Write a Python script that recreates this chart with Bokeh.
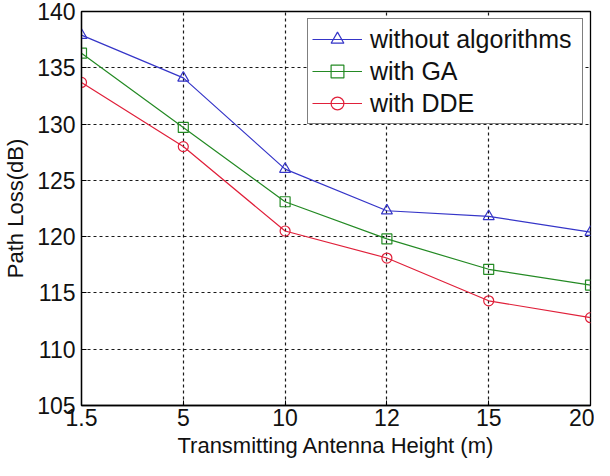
from bokeh.plotting import figure
from bokeh.models import Range1d, FixedTicker, Legend, LegendItem
from bokeh.embed import file_html
from bokeh.resources import INLINE

heights = ["1.5", "5", "10", "12", "15", "20"]
without_alg = [137.9, 134.1, 126.0, 122.3, 121.8, 120.4]
with_ga = [136.3, 129.7, 123.1, 119.8, 117.1, 115.7]
with_dde = [133.7, 128.0, 120.5, 118.1, 114.3, 112.8]
y_ticks = [105, 110, 115, 120, 125, 130, 135, 140]

xs = list(range(len(heights)))
FONT = "Liberation Sans"

p = figure(width=594, height=460, output_backend="svg", toolbar_location=None,
           x_range=Range1d(0, len(heights) - 1), y_range=Range1d(105, 140),
           min_border_left=73, min_border_right=4, min_border_top=11, min_border_bottom=51)

p.outline_line_color = "black"
p.outline_line_width = 1.3
p.background_fill_color = "white"

for ax in (p.xaxis[0], p.yaxis[0]):
    ax.major_label_text_font = FONT
    ax.major_label_text_font_size = "23px"
    ax.major_label_text_color = "#111111"
    ax.axis_label_text_font = FONT
    ax.axis_label_text_font_size = "22px"
    ax.axis_label_text_font_style = "normal"
    ax.axis_label_text_color = "#111111"
    ax.major_tick_in = 5
    ax.major_tick_out = 0
    ax.minor_tick_in = 0
    ax.minor_tick_out = 0
    ax.axis_line_color = "black"
    ax.axis_line_width = 1.3
    ax.major_tick_line_color = "black"

p.xaxis.ticker = FixedTicker(ticks=xs)
p.xaxis.major_label_overrides = {i: h for i, h in enumerate(heights)}
p.xaxis.axis_label = "Transmitting Antenna Height (m)"
p.xaxis.major_label_standoff = 3
p.xaxis.axis_label_standoff = 4

p.yaxis.ticker = FixedTicker(ticks=y_ticks)
p.yaxis.axis_label = "Path Loss(dB)"
p.yaxis.major_label_standoff = 6
p.yaxis.axis_label_standoff = 6

for g in (p.xgrid[0], p.ygrid[0]):
    g.grid_line_color = "black"
    g.grid_line_dash = "3 3"
    g.grid_line_width = 1.2
    g.grid_line_alpha = 0.9

series = [
    ("without algorithms", without_alg, "#3535c8", "triangle", 11),
    ("with GA", with_ga, "#248a24", "square", 10),
    ("with DDE", with_dde, "#e0203a", "circle", 10),
]

items = []
for name, ys, color, marker, size in series:
    r1 = p.line(xs, ys, line_color=color, line_width=1.2)
    r2 = p.scatter(xs, ys, marker=marker, size=size, line_color=color,
                   fill_color=None, line_width=1.2)
    items.append(LegendItem(label=name, renderers=[r1, r2]))

legend = Legend(items=items, location="top_right")
legend.label_text_font = FONT
legend.label_text_font_size = "25px"
legend.label_text_color = "#111111"
legend.glyph_width = 50
legend.glyph_height = 32
legend.label_height = 32
legend.label_width = 208
legend.label_standoff = 8
legend.spacing = 0
legend.padding = 4
legend.margin = 7
legend.border_line_color = "black"
legend.border_line_width = 1.2
legend.background_fill_color = "white"
legend.background_fill_alpha = 1.0
p.add_layout(legend)

open("out.html", "w").write(file_html(p, INLINE))
